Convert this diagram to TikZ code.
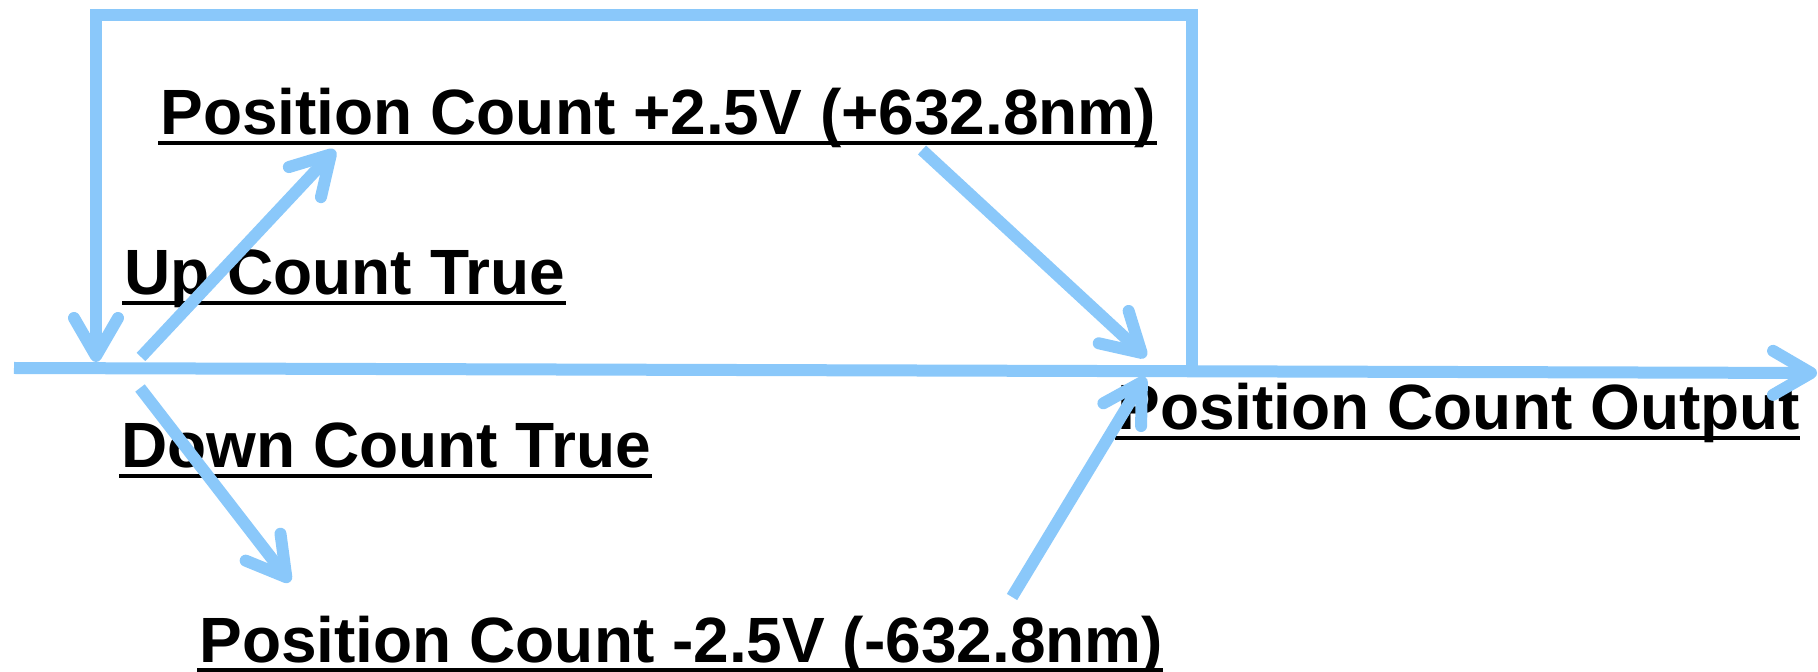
\documentclass[tikz,border=0pt]{standalone}
\usepackage{fontspec}
\setmainfont{Liberation Sans}
\usetikzlibrary{arrows.meta}

\definecolor{flowblue}{RGB}{138,200,250}

\tikzset{
  flow/.style={draw=flowblue,line width=6pt,-{Straight Barb[length=19pt,width=22pt,round]}},
  lbl/.style={anchor=base west,inner sep=0pt,font=\fontsize{32}{38}\selectfont\bfseries},
  uline/.style={line width=2pt},
}

\begin{document}
\begin{tikzpicture}[x=0.5pt,y=-0.5pt]
\useasboundingbox (0,0) rectangle (1818,672);

% count labels
\node[lbl] (plus)  at (160,135)  {Position Count +2.5V (+632.8nm)};
\node[lbl] (up)    at (124,295)  {Up Count True};
\node[lbl] (down)  at (121,468)  {Down Count True};
\node[lbl] (minus) at (199,662)  {Position Count -2.5V (-632.8nm)};
\node[lbl] (out)   at (1117,430) {Position Count Output};

% underline every label
\foreach \n in {plus,up,down,minus,out}
  \draw[uline] ([yshift=-4pt,xshift=-1pt]\n.base west) -- ([yshift=-4pt]\n.base east);

% arrow end points
\coordinate (start)  at (14,368);
\coordinate (end)    at (1817,373);
\coordinate (loop)   at (1192,370);
\coordinate (back)   at (96,362);
\coordinate (upfrom) at (141,357);
\coordinate (upto)   at (335,150);
\coordinate (pfrom)  at (922,150);
\coordinate (pto)    at (1146,357);
\coordinate (dnfrom) at (140,388);
\coordinate (dnto)   at (290,582);
\coordinate (mfrom)  at (1012,597);
\coordinate (mto)    at (1145,377);

% main count line and the feedback loop
\draw[flow] (start) -- (end);
\draw[flow] (loop) -- ++(0,-355) -| (back);

% up and down branches
\draw[flow] (upfrom) -- (upto);
\draw[flow] (pfrom) -- (pto);
\draw[flow] (dnfrom) -- (dnto);
\draw[flow] (mfrom) -- (mto);
\end{tikzpicture}
\end{document}
